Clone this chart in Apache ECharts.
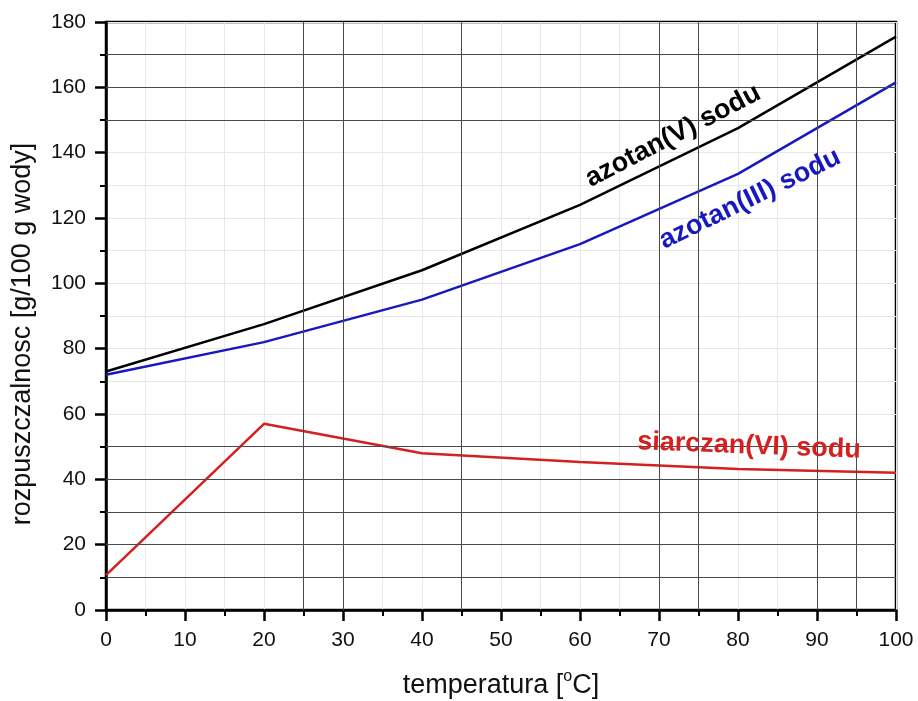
<!DOCTYPE html>
<html>
<head>
<meta charset="utf-8">
<script src="https://cdn.jsdelivr.net/npm/echarts@6/dist/echarts.min.js"></script>
<style>
  html, body { margin: 0; padding: 0; background: #fff; }
  #chart { width: 918px; height: 701px; }
</style>
</head>
<body>
<div id="chart"></div>
<script>
// temperatura [°C]
const temps = [0, 20, 40, 60, 80, 100]
// rozpuszczalnosc [g/100 g wody]
const azotanV = [73, 87.5, 104, 124, 147.5, 175.5]
const azotanIII = [72, 82, 95, 112, 133.5, 161.5]
const siarczanVI = [10.7, 57, 48, 45.3, 43.2, 42]
// ciemniejsze linie siatki
const darkX = [25, 30, 45, 70, 75, 90, 95]
const darkY = [10, 20, 30, 40, 50, 150, 160, 170]

const font = '"Liberation Sans", Arial, sans-serif'

const pairs = (ys) => temps.map((t, i) => [t, ys[i]])

const chart = echarts.init(document.getElementById('chart'))

const option = {
  backgroundColor: '#fff',
  animation: false,
  grid: {
    left: 106, right: 22, top: 22, bottom: 91,
    outerBoundsMode: 'none',
    show: true,
    borderColor: '#000',
    borderWidth: 2.5,
    backgroundColor: 'transparent'
  },
  xAxis: {
    type: 'value',
    min: 0, max: 100, interval: 10,
    name: 'temperatura [{sup|o}C]',
    nameLocation: 'middle',
    nameGap: 59,
    nameTextStyle: {
      fontFamily: font, fontSize: 27, color: '#111',
      rich: { sup: { fontFamily: font, fontSize: 16, color: '#111', padding: [0, 0, 18, 0] } }
    },
    axisLine: { lineStyle: { color: '#000', width: 2.5 } },
    axisTick: { inside: false, length: 11, lineStyle: { color: '#000', width: 2.5 } },
    minorTick: { show: true, splitNumber: 2, length: 6, lineStyle: { color: '#000', width: 2 } },
    axisLabel: { fontFamily: font, fontSize: 21, color: '#111', margin: 20 },
    splitLine: { show: true, lineStyle: { color: '#e8e8e8', width: 1 } },
    minorSplitLine: { show: true, lineStyle: { color: '#e8e8e8', width: 1 } }
  },
  yAxis: {
    type: 'value',
    min: 0, max: 180, interval: 20,
    name: 'rozpuszczalnosc [g/100 g wody]',
    nameLocation: 'middle',
    nameGap: 70,
    nameTextStyle: { fontFamily: font, fontSize: 27, color: '#111', padding: [0, 36, 0, 0] },
    axisLine: { show: true, lineStyle: { color: '#000', width: 2.5 } },
    axisTick: { show: true, inside: false, length: 11, lineStyle: { color: '#000', width: 2.5 } },
    minorTick: { show: true, splitNumber: 2, length: 6, lineStyle: { color: '#000', width: 2 } },
    axisLabel: { fontFamily: font, fontSize: 21, color: '#111', margin: 20 },
    splitLine: { show: true, lineStyle: { color: '#e8e8e8', width: 1 } },
    minorSplitLine: { show: true, lineStyle: { color: '#e8e8e8', width: 1 } }
  },
  series: [
    {
      // ciemna siatka
      type: 'line',
      data: [],
      z: 1,
      silent: true,
      markLine: {
        silent: true,
        symbol: 'none',
        label: { show: false },
        lineStyle: { color: '#4a4a4a', width: 1, type: 'solid' },
        data: darkX.map(v => ({ xAxis: v })).concat(darkY.map(v => ({ yAxis: v })))
      }
    },
    {
      name: 'azotan(V) sodu',
      type: 'line',
      data: pairs(azotanV),
      z: 3,
      showSymbol: false,
      lineStyle: { color: '#000', width: 2.5 }
    },
    {
      name: 'azotan(III) sodu',
      type: 'line',
      data: pairs(azotanIII),
      z: 3,
      showSymbol: false,
      lineStyle: { color: '#1818c0', width: 2.5 }
    },
    {
      name: 'siarczan(VI) sodu',
      type: 'line',
      data: pairs(siarczanVI),
      z: 3,
      showSymbol: false,
      lineStyle: { color: '#d42020', width: 2.5 }
    }
  ],
  graphic: [
    {
      type: 'text', x: 673, y: 136, rotation: 27.5 * Math.PI / 180, z: 10,
      style: { text: 'azotan(V) sodu', fontFamily: font, fontSize: 27, fontWeight: 'bold', fill: '#000', align: 'center', verticalAlign: 'middle' }
    },
    {
      type: 'text', x: 750, y: 199, rotation: 26 * Math.PI / 180, z: 10,
      style: { text: 'azotan(III) sodu', fontFamily: font, fontSize: 27, fontWeight: 'bold', fill: '#1818c0', align: 'center', verticalAlign: 'middle' }
    },
    {
      type: 'text', x: 749, y: 446, rotation: -2.2 * Math.PI / 180, z: 10,
      style: { text: 'siarczan(VI) sodu', fontFamily: font, fontSize: 27, fontWeight: 'bold', fill: '#d42020', align: 'center', verticalAlign: 'middle' }
    }
  ]
}

chart.setOption(option)
</script>
</body>
</html>
